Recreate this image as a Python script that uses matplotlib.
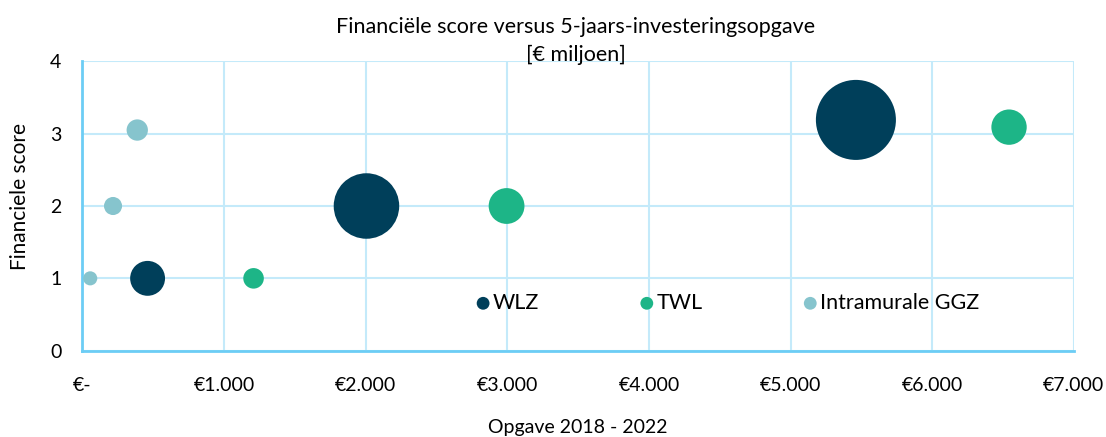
import matplotlib
matplotlib.use('Agg')
import matplotlib.pyplot as plt
from matplotlib.ticker import FuncFormatter

plt.rcParams['font.family'] = ['Lato', 'DejaVu Sans']

# investeringsopgave 2018-2022 [mln euro], financiele score, bubbelgrootte
wlz_x = [461, 2006, 5461]
wlz_y = [1, 2, 3.19]
wlz_size = [19, 67, 100]

twl_x = [1209, 2995, 6542]
twl_y = [1, 2, 3.09]
twl_size = [6.6, 20, 19.5]

ggz_x = [56, 217, 388]
ggz_y = [1, 2, 3.05]
ggz_size = [3.1, 5.1, 7.1]

series = ['WLZ', 'TWL', 'Intramurale GGZ']
colors = ['#003F5A', '#1DB587', '#86C4CD']

x_ticks = [0, 1000, 2000, 3000, 4000, 5000, 6000, 7000]
y_ticks = [0, 1, 2, 3, 4]

# largest bubble = 100 -> ~80 px diameter
scale = 33.2

fig = plt.figure(figsize=(11.06, 4.37), dpi=100)
ax = fig.add_axes([0.0744, 0.1975, 0.8966, 0.6622])

data = [(wlz_x, wlz_y, wlz_size), (twl_x, twl_y, twl_size), (ggz_x, ggz_y, ggz_size)]
for (xs, ys, ss), name, c in zip(data, series, colors):
    ax.scatter(xs, ys, s=[v * scale for v in ss], color=c, edgecolors='none',
               zorder=3, label=name)

ax.set_xlim(0, 7000)
ax.set_ylim(0, 4)
ax.set_xticks(x_ticks)
ax.set_yticks(y_ticks)


def euro(v, pos):
    if v == 0:
        return '€-'
    return '€' + format(int(v), ',').replace(',', '.')


ax.xaxis.set_major_formatter(FuncFormatter(euro))
ax.grid(True, color='#C4EAFA', linewidth=1.5, zorder=0)
ax.set_axisbelow(True)
for side in ['top', 'right']:
    ax.spines[side].set_visible(False)
for side in ['left', 'bottom']:
    ax.spines[side].set_color('#6CCDF5')
    ax.spines[side].set_linewidth(2)
ax.tick_params(axis='both', length=0, labelsize=14, colors='#000000')
ax.tick_params(axis='x', pad=19)
ax.tick_params(axis='y', pad=15)

# axis titles and chart title placed in figure pixels
fig.text(578 / 1106, 1 - 427 / 437, 'Opgave 2018 - 2022', fontsize=14,
         ha='center', va='center')
fig.text(20 / 1106, 1 - 196 / 437, 'Financiele score', fontsize=15,
         rotation=90, ha='center', va='center')
fig.text(576 / 1106, 1 - 27 / 437, 'Financiële score versus 5-jaars-investeringsopgave',
         fontsize=15.5, ha='center', va='center')
fig.text(576 / 1106, 1 - 55 / 437, '[€ miljoen]', fontsize=15.5,
         ha='center', va='center')

leg = ax.legend(loc='center', bbox_to_anchor=(0.65, 0.165), ncol=3, frameon=False,
                fontsize=15.5, handletextpad=0.05, columnspacing=4.6,
                handlelength=0.8)
for h in leg.legend_handles:
    h.set_sizes([85])

fig.savefig('out.png', dpi=100)
